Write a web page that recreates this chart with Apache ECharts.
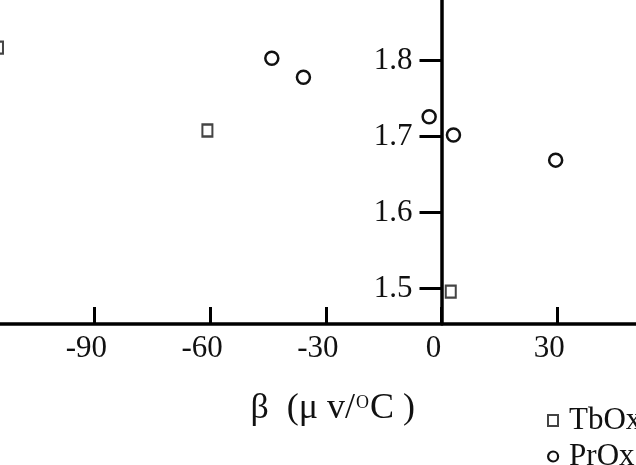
<!DOCTYPE html>
<html>
<head>
<meta charset="utf-8">
<script src="https://cdn.jsdelivr.net/npm/echarts@6/dist/echarts.min.js"></script>
<style>
html,body{margin:0;padding:0;background:#fff;}
#chart{width:636px;height:465px;}
</style>
</head>
<body>
<div id="chart"></div>
<script>
// Data
var tbX = [-115, -60.7, 2.4];
var tbY = [1.817, 1.708, 1.496];
var prX = [-44.0, -35.8, -3.2, 3.1, 29.6];
var prY = [1.803, 1.778, 1.726, 1.702, 1.669];
var xTicks = [-120, -90, -60, -30, 0, 30, 60];
var yTicks = [1.5, 1.6, 1.7, 1.8];
var seriesNames = ['TbOx', 'PrOx'];

function pairs(xs, ys) { return xs.map(function (x, i) { return [x, ys[i]]; }); }

var serif = '"Liberation Serif", "DejaVu Serif", serif';
var gridLeft = -21.3, xMin = -120, xMax = 60, gridRight = -36.9;
var plotW = 636 - gridLeft - gridRight;
// place the y axis line on x = 0 of the x scale
var yAxisOffset = -(0 - xMin) / (xMax - xMin) * plotW;

var legendText = {fontFamily: serif, fontSize: 31, color: '#111', lineHeight: 24, padding: [0, 0, 0, 6]};
function legendFor(item, top) {
  return {
    orient: 'vertical', left: 547, top: top, padding: 0,
    itemWidth: 10, itemHeight: 11, textStyle: legendText, data: [item]
  };
}

var chart = echarts.init(document.getElementById('chart'), null, {renderer: 'canvas'});
chart.setOption({
  animation: false,
  backgroundColor: '#fff',
  grid: {left: gridLeft, right: gridRight, top: 0, bottom: 141, outerBoundsMode: 'none', containLabel: false},
  legend: [
    legendFor({name: seriesNames[0], icon: 'rect', itemStyle: {color: '#fff', borderColor: '#444', borderWidth: 2}}, 405),
    legendFor({name: seriesNames[1], icon: 'circle', itemStyle: {color: '#fff', borderColor: '#111', borderWidth: 2.2}}, 441)
  ],
  xAxis: {
    type: 'value', min: xMin, max: xMax, interval: 30,
    axisLine: {onZero: false, lineStyle: {color: '#000', width: 3.5}},
    axisTick: {inside: true, length: 17, lineStyle: {color: '#000', width: 3}},
    axisLabel: {fontFamily: serif, fontSize: 31, color: '#111', margin: 9, padding: [0, 16, 0, 0],
      customValues: xTicks},
    splitLine: {show: false},
    name: '{a|β  (μ v/}{s|O}{a|C )}',
    nameLocation: 'middle', nameGap: 66,
    nameTextStyle: {
      padding: [0, 0, 0, 14],
      rich: {
        a: {fontFamily: serif, fontSize: 36, color: '#111', lineHeight: 38},
        s: {fontFamily: serif, fontSize: 18, color: '#111', lineHeight: 18, verticalAlign: 'top', padding: [4, 1, 0, 1]}
      }
    }
  },
  yAxis: {
    type: 'value', min: 1.4534, max: 1.8797, splitNumber: 4,
    position: 'left', offset: yAxisOffset,
    axisLine: {onZero: false, lineStyle: {color: '#000', width: 3.5}},
    axisTick: {inside: false, length: 22, lineStyle: {color: '#000', width: 3}, customValues: yTicks},
    axisLabel: {fontFamily: serif, fontSize: 31, color: '#111', margin: 29,
      showMinLabel: false, showMaxLabel: false},
    splitLine: {show: false}
  },
  series: [
    {
      name: seriesNames[0], type: 'scatter', symbol: 'rect', symbolSize: [10, 12],
      itemStyle: {color: '#fff', borderColor: '#444', borderWidth: 2.2, opacity: 1},
      data: pairs(tbX, tbY), z: 3
    },
    {
      name: seriesNames[1], type: 'scatter', symbol: 'circle', symbolSize: 13,
      itemStyle: {color: '#fff', borderColor: '#111', borderWidth: 2.5, opacity: 1},
      data: pairs(prX, prY), z: 3
    }
  ]
});
</script>
</body>
</html>
